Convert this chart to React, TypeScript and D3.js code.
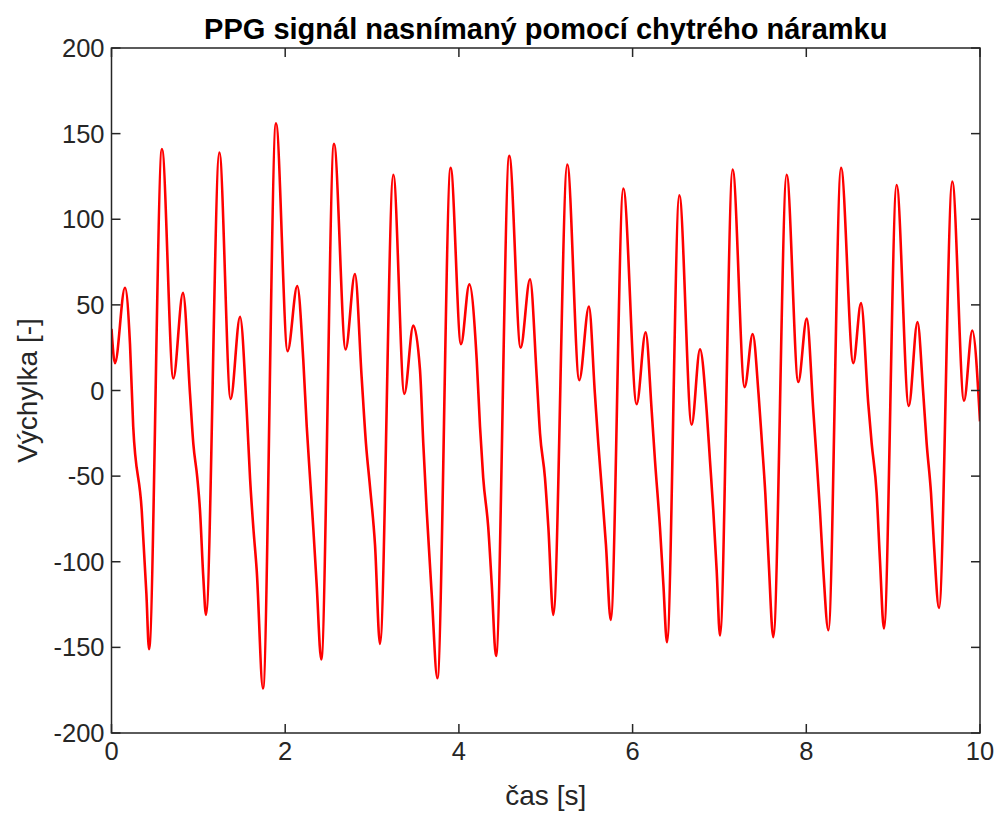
import React, { useEffect, useRef } from "react";
import * as d3 from "d3";

const title = "PPG signál nasnímaný pomocí chytrého náramku";
const xLabel = "čas [s]";
const yLabel = "Výchylka [-]";
const xTicks = [0, 2, 4, 6, 8, 10];
const yTicks = [-200, -150, -100, -50, 0, 50, 100, 150, 200];

const timeS = [
  0.0, 0.04, 0.155, 0.213, 0.25, 0.348, 0.402, 0.432, 0.581, 0.712, 0.823, 0.904, 0.942, 0.988, 1.019, 1.057, 1.088,
  1.242, 1.372, 1.48, 1.557, 1.595, 1.633, 1.672, 1.744,
  1.894, 2.028, 2.139, 2.208, 2.248, 2.286, 2.323, 2.362, 2.415,
  2.562, 2.696, 2.803, 2.88, 2.93, 2.976, 3.034, 3.091,
  3.245, 3.372, 3.475, 3.552, 3.59, 3.629, 3.687, 3.752,
  3.905, 4.024, 4.12, 4.205, 4.243, 4.28, 4.338, 4.378, 4.427,
  4.58, 4.711, 4.819, 4.896, 4.934, 4.991, 5.03, 5.087,
  5.248, 5.386, 5.497, 5.566, 5.605, 5.643, 5.693, 5.748,
  5.893, 6.047, 6.15, 6.22, 6.258, 6.315, 6.354, 6.396,
  6.538, 6.68, 6.776, 6.853, 6.891, 6.929, 6.968, 7.006,
  7.152, 7.29, 7.383, 7.45, 7.49, 7.528, 7.566, 7.62,
  7.774, 7.908, 8.005, 8.081, 8.12, 8.157, 8.196, 8.254,
  8.4, 8.541, 8.63, 8.714, 8.753, 8.81, 8.848, 8.894,
  9.04, 9.18, 9.28, 9.347, 9.386, 9.436, 9.47, 9.528,
  9.681, 9.816, 9.911, 10.0,
];

const amplitude = [
  36, 16, 60, 27, -21, -70, -119, -151, 141, 7, 57, -2, -31, -51, -70, -109, -131,
  139, -5, 43, -12, -51, -80, -105, -174,
  156, 23, 61, 18, -21, -51, -80, -113, -157,
  144, 24, 68, 8, -31, -56, -90, -148,
  126, -2, 38, 12, -31, -70, -119, -168,
  130, 27, 62, 18, -21, -51, -80, -113, -155,
  137, 25, 65, 8, -25, -51, -80, -131,
  132, 6, 49, -2, -31, -56, -90, -134,
  118, -8, 34, -12, -41, -80, -113, -147,
  114, -20, 24, -12, -41, -70, -105, -143,
  129, 2, 33, -2, -31, -60, -99, -144,
  126, 5, 42, -12, -41, -70, -105, -140,
  130, 16, 51, -8, -31, -60, -99, -139,
  120, -9, 40, -2, -31, -60, -90, -127,
  122, -6, 35, -18,
];

const W = 995;
const H = 814;
const M = { left: 111.5, right: 980, top: 48, bottom: 733 };
const TEXT = "#262626";
const FONT = "'Liberation Sans', Arial, Helvetica, sans-serif";

export default function App() {
  const ref = useRef<SVGSVGElement>(null);

  useEffect(() => {
    const svg = d3.select(ref.current);
    svg.selectAll("*").remove();

    const x = d3.scaleLinear().domain([0, 10]).range([M.left, M.right]);
    const y = d3.scaleLinear().domain([-200, 200]).range([M.bottom, M.top]);

    svg.append("rect").attr("width", W).attr("height", H).attr("fill", "#fff");

    const data = timeS.map((t, i) => [t, amplitude[i]] as [number, number]);
    const line = d3
      .line<[number, number]>()
      .x((d) => x(d[0]))
      .y((d) => y(d[1]))
      .curve(d3.curveMonotoneX);

    svg
      .append("defs")
      .append("clipPath")
      .attr("id", "plotclip")
      .append("rect")
      .attr("x", M.left)
      .attr("y", M.top)
      .attr("width", M.right - M.left)
      .attr("height", M.bottom - M.top);

    svg
      .append("path")
      .datum(data)
      .attr("d", line)
      .attr("fill", "none")
      .attr("stroke", "#ff0000")
      .attr("stroke-width", 2.6)
      .attr("stroke-linejoin", "round")
      .attr("clip-path", "url(#plotclip)");

    const g = svg.append("g").attr("stroke", TEXT).attr("stroke-width", 1.5);
    const tl = 9;
    xTicks.forEach((t) => {
      g.append("line").attr("x1", x(t)).attr("x2", x(t)).attr("y1", M.bottom).attr("y2", M.bottom - tl);
      g.append("line").attr("x1", x(t)).attr("x2", x(t)).attr("y1", M.top).attr("y2", M.top + tl);
    });
    yTicks.forEach((t) => {
      g.append("line").attr("x1", M.left).attr("x2", M.left + tl).attr("y1", y(t)).attr("y2", y(t));
      g.append("line").attr("x1", M.right).attr("x2", M.right - tl).attr("y1", y(t)).attr("y2", y(t));
    });
    g.append("rect")
      .attr("x", M.left)
      .attr("y", M.top)
      .attr("width", M.right - M.left)
      .attr("height", M.bottom - M.top)
      .attr("fill", "none");

    const tg = svg.append("g").attr("fill", TEXT).attr("font-family", FONT).attr("font-size", 25.5);
    xTicks.forEach((t) => {
      tg.append("text").attr("x", x(t)).attr("y", 760).attr("text-anchor", "middle").text(String(t));
    });
    yTicks.forEach((t) => {
      tg.append("text")
        .attr("x", M.left - 7)
        .attr("y", y(t) + 9)
        .attr("text-anchor", "end")
        .text(String(t));
    });

    svg
      .append("text")
      .attr("x", (M.left + M.right) / 2)
      .attr("y", 805)
      .attr("text-anchor", "middle")
      .attr("font-family", FONT)
      .attr("font-size", 28)
      .attr("fill", TEXT)
      .text(xLabel);

    svg
      .append("text")
      .attr("transform", `translate(37, ${(M.top + M.bottom) / 2}) rotate(-90)`)
      .attr("text-anchor", "middle")
      .attr("font-family", FONT)
      .attr("font-size", 28)
      .attr("fill", TEXT)
      .text(yLabel);

    svg
      .append("text")
      .attr("x", (M.left + M.right) / 2)
      .attr("y", 39)
      .attr("text-anchor", "middle")
      .attr("font-family", FONT)
      .attr("font-size", 29)
      .attr("font-weight", "bold")
      .attr("fill", "#000")
      .text(title);
  }, []);

  return (
    <svg
      ref={ref}
      width={W}
      height={H}
      style={{ position: "absolute", left: 0, top: 0, display: "block" }}
    />
  );
}
